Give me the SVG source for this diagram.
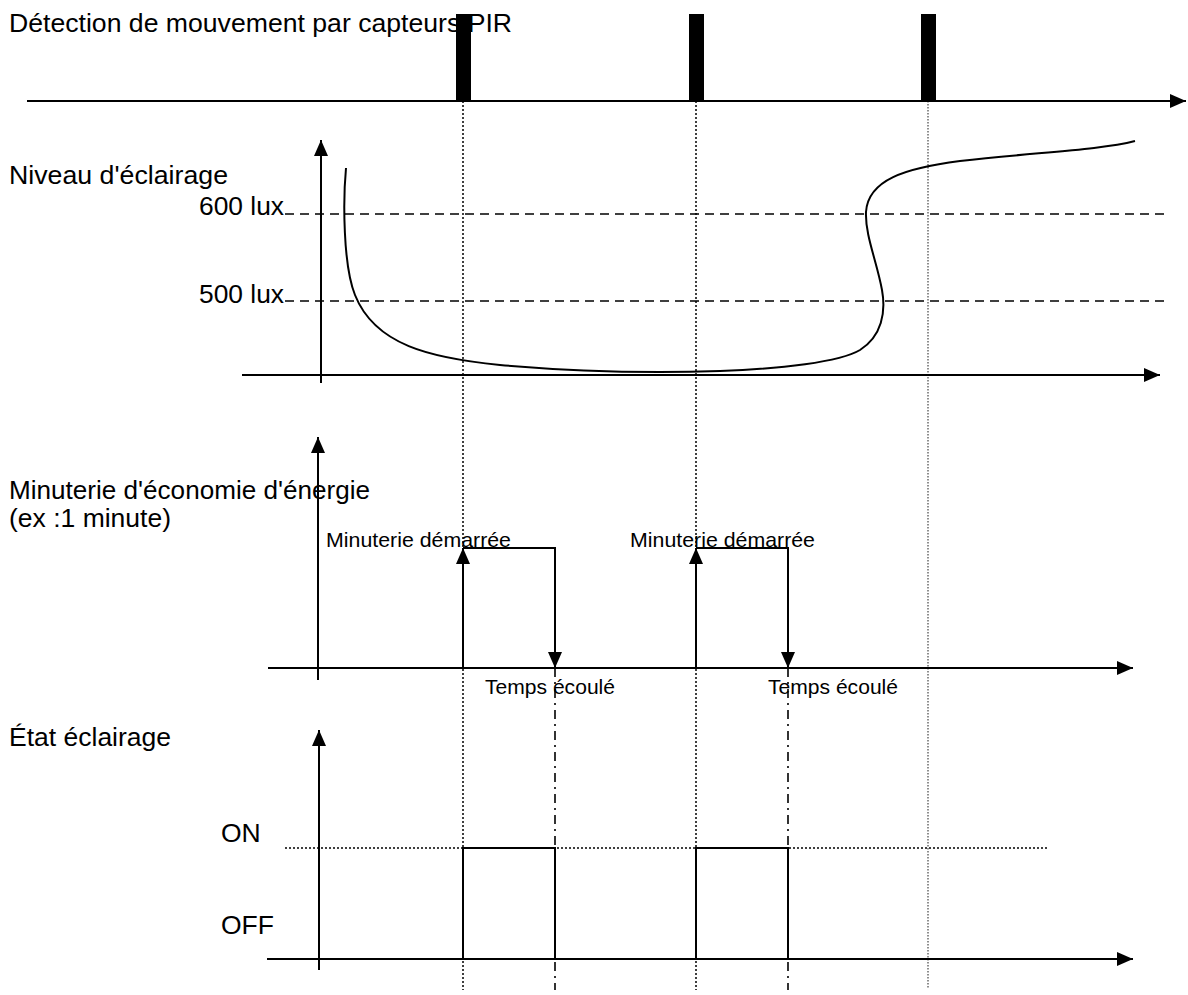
<svg xmlns="http://www.w3.org/2000/svg" width="1188" height="995" viewBox="0 0 1188 995">
<style>
text{font-family:"Liberation Sans",Arial,sans-serif;fill:#000}
.lbl{font-size:26.5px}
.sm{font-size:21px}
.ax{stroke:#000;stroke-width:2;fill:none}
.ln{stroke:#000;stroke-width:2;fill:none}
.dot{stroke:#000;stroke-width:1.5;stroke-dasharray:2 2;fill:none}
.dotl{stroke:#444;stroke-width:1.2;stroke-dasharray:1.5 1.5;fill:none}
.dash{stroke:#000;stroke-width:1.6;stroke-dasharray:9 6;fill:none}
.dd{stroke:#000;stroke-width:1.6;stroke-dasharray:9 5 2 5;fill:none}
</style>
<defs>
<marker id="ah" viewBox="0 0 16 14" refX="16" refY="7" markerWidth="16" markerHeight="14" markerUnits="userSpaceOnUse" orient="auto">
<path d="M0,0 L16,7 L0,14 Z" fill="#000"/>
</marker>
</defs>
<rect width="1188" height="995" fill="#fff"/>

<g id="labels">
<text class="lbl" x="9" y="32" textLength="503" lengthAdjust="spacingAndGlyphs">Détection de mouvement par capteurs PIR</text>
<text class="lbl" x="9" y="184" textLength="219" lengthAdjust="spacingAndGlyphs">Niveau d'éclairage</text>
<text class="lbl" x="199" y="215" textLength="85" lengthAdjust="spacingAndGlyphs">600 lux</text>
<text class="lbl" x="199" y="303" textLength="85" lengthAdjust="spacingAndGlyphs">500 lux</text>
<text class="lbl" x="9" y="499" textLength="361" lengthAdjust="spacingAndGlyphs">Minuterie d'économie d'énergie</text>
<text class="lbl" x="9" y="527">(ex :1 minute)</text>
<text class="lbl" x="9" y="746">État éclairage</text>
<text class="lbl" x="221" y="842">ON</text>
<text class="lbl" x="221" y="934">OFF</text>
</g>

<g id="guides">
<line class="dot" x1="463" y1="101" x2="463" y2="990"/>
<line class="dot" x1="696" y1="101" x2="696" y2="990"/>
<line class="dotl" x1="928" y1="101" x2="928" y2="988"/>
<line class="dd" x1="555" y1="668" x2="555" y2="990"/>
<line class="dd" x1="788" y1="668" x2="788" y2="990"/>
<line class="dash" x1="285" y1="214" x2="1170" y2="214"/>
<line class="dash" x1="285" y1="301" x2="1170" y2="301"/>
<line class="dot" x1="285" y1="848" x2="1047" y2="848"/>
</g>

<g id="pir">
<line class="ax" x1="27" y1="101" x2="1186" y2="101" marker-end="url(#ah)"/>
<rect x="456" y="14" width="15" height="87" fill="#000"/>
<rect x="689" y="14" width="15" height="87" fill="#000"/>
<rect x="921" y="14" width="15" height="87" fill="#000"/>
</g>

<g id="lux">
<line class="ax" x1="321" y1="383" x2="321" y2="140" marker-end="url(#ah)"/>
<line class="ax" x1="242" y1="375" x2="1160" y2="375" marker-end="url(#ah)"/>
<path class="ln" d="M346,168 C343,200 343,265 355,295 C375,345 430,358 500,365 C580,372 660,373 720,371 C780,369 840,362 860,350 C882,336 886,312 882,290 C877,262 865,235 866,212 C868,180 905,168 960,161 C1040,152 1100,150 1135,141"/>
</g>

<g id="timer">
<line class="ax" x1="318" y1="680" x2="318" y2="437" marker-end="url(#ah)"/>
<line class="ax" x1="268" y1="668" x2="1133" y2="668" marker-end="url(#ah)"/>
<text class="sm" x="326" y="547" textLength="185" lengthAdjust="spacingAndGlyphs">Minuterie démarrée</text>
<text class="sm" x="630" y="547" textLength="185" lengthAdjust="spacingAndGlyphs">Minuterie démarrée</text>
<text class="sm" x="485" y="694" textLength="130" lengthAdjust="spacingAndGlyphs">Temps écoulé</text>
<text class="sm" x="768" y="694" textLength="130" lengthAdjust="spacingAndGlyphs">Temps écoulé</text>
</g>

<g id="connectors">
<line class="ln" x1="463" y1="668" x2="463" y2="548" marker-end="url(#ah)"/>
<polyline class="ln" points="463,548 555,548 555,668" marker-end="url(#ah)"/>
<line class="ln" x1="696" y1="668" x2="696" y2="548" marker-end="url(#ah)"/>
<polyline class="ln" points="696,548 788,548 788,668" marker-end="url(#ah)"/>
</g>

<g id="state">
<line class="ax" x1="319" y1="970" x2="319" y2="730" marker-end="url(#ah)"/>
<line class="ax" x1="267" y1="959" x2="1133" y2="959" marker-end="url(#ah)"/>
<polyline class="ln" points="463,959 463,848 555,848 555,959"/>
<polyline class="ln" points="696,959 696,848 788,848 788,959"/>
</g>
</svg>
